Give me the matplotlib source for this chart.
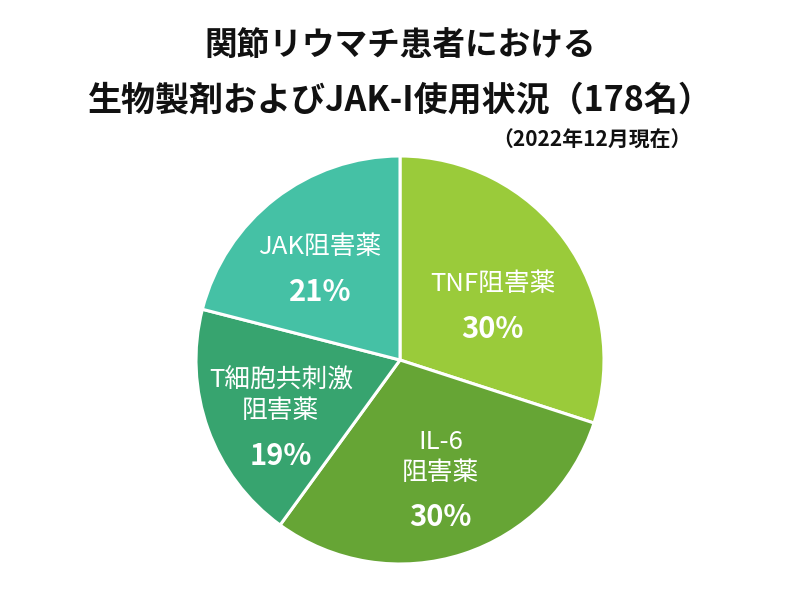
import numpy as np
import matplotlib
matplotlib.use("Agg")
import matplotlib.pyplot as plt

plt.rcParams['font.family'] = ['Noto Sans CJK JP', 'DejaVu Sans']

# data
names = ["TNF阻害薬", "IL-6\n阻害薬", "T細胞共刺激\n阻害薬", "JAK阻害薬"]
shares = [30, 30, 19, 21]
colors = ["#9ACB3A", "#66A535", "#37A46F", "#45C1A5"]

# label placement: radius fraction and angle tweak from wedge middle
label_r = [0.53, 0.68, 0.68, 0.60]
label_dang = [-5, -1, 11, 3]

fig = plt.figure(figsize=(8, 6), dpi=100)
ax = fig.add_axes([0.245, 0.06, 0.51, 0.68])

wedges, _ = ax.pie(shares, colors=colors, startangle=90, counterclock=False,
                   radius=1, wedgeprops=dict(edgecolor="white", linewidth=2.2))
ax.set_xlim(-1, 1)
ax.set_ylim(-1, 1)
ax.set_aspect("equal")
ax.axis("off")

for w, name, pct, r, da in zip(wedges, names, shares, label_r, label_dang):
    mid = np.deg2rad((w.theta1 + w.theta2) / 2 + da)
    x, y = r * np.cos(mid), r * np.sin(mid)
    ax.annotate(name, (x, y), xytext=(0, 5), textcoords="offset points",
                ha="center", va="bottom", color="white", fontsize=18.5,
                linespacing=1.25)
    ax.annotate(f"{pct}%", (x, y), xytext=(0, -7), textcoords="offset points",
                ha="center", va="top", color="white", fontsize=21,
                fontweight="bold")

fig.text(0.5, 1 - 45 / 600, "関節リウマチ患者における", ha="center", va="center",
         fontsize=23.5, fontweight="bold", color="#111111")
fig.text(0.5, 1 - 100 / 600, "生物製剤およびJAK-I使用状況（178名）", ha="center",
         va="center", fontsize=24.5, fontweight="bold", color="#111111")
fig.text(692 / 800, 1 - 140 / 600, "（2022年12月現在）", ha="right", va="center",
         fontsize=15, fontweight="bold", color="#111111")

fig.savefig("out.png", dpi=100, facecolor="white")
